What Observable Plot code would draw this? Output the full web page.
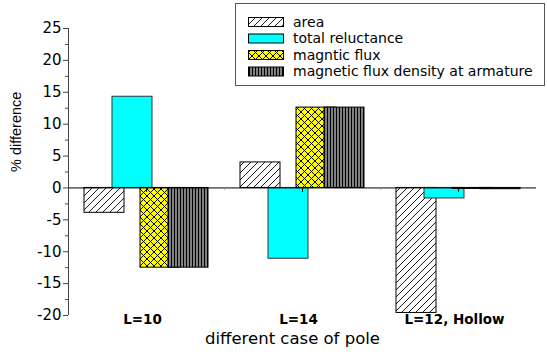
<!DOCTYPE html>
<html>
<head>
<meta charset="utf-8">
<script src="https://cdn.jsdelivr.net/npm/d3@7"></script>
<script src="https://cdn.jsdelivr.net/npm/@observablehq/plot@0.6"></script>
<style>
  html, body { margin: 0; padding: 0; background: #fff; }
</style>
</head>
<body>
<div id="chart"></div>
<script>
const categories = ["L=10", "L=14", "L=12, Hollow"];
const seriesNames = ["area", "total reluctance", "magntic flux", "magnetic flux density at armature"];
const area = [-3.9, 4.0, -19.6];
const reluctance = [14.3, -11.1, -1.65];
const flux = [-12.5, 12.6, -0.15];
const density = [-12.5, 12.6, -0.2];
const yTicks = [-20, -15, -10, -5, 0, 5, 10, 15, 20, 25];
const yMinor = [-17.5, -12.5, -7.5, -2.5, 2.5, 7.5, 12.5, 17.5, 22.5];
const xTitle = "different case of pole";
const yTitle = "% difference";

const seriesValues = [area, reluctance, flux, density];
const fills = ["url(#pArea)", "#00ffff", "url(#pFlux)", "url(#pDens)"];
const strokes = ["#000", "#333", "#000", "#000"];
const OFF = 28 / 156;   // offset between bars in a group (group units)
const W = 40 / 156;     // bar width (group units)

const rows = seriesValues.flatMap((vals, j) => vals.map((v, i) => ({i, j, v})));

const FONT = "DejaVu Sans";

const chart = Plot.plot({
  width: 547,
  height: 357,
  marginLeft: 68,
  marginRight: 11,
  marginTop: 28,
  marginBottom: 42,
  style: {fontFamily: FONT, fontSize: "15px", background: "#fff", color: "#000"},
  x: {domain: [-0.5, 2.5], axis: null},
  y: {domain: [-20, 25]},
  marks: [
    ...seriesValues.map((vals, j) => Plot.rect(rows.filter(r => r.j === j), {
      x1: r => r.i + (r.j - 1.5) * OFF - W / 2,
      x2: r => r.i + (r.j - 1.5) * OFF + W / 2,
      y1: 0,
      y2: "v",
      fill: fills[j],
      stroke: strokes[j],
      strokeWidth: 1
    })),
    Plot.ruleY([0], {stroke: "#000", strokeWidth: 1}),
    Plot.ruleX(categories.map((c, i) => i), {x: d => d, y1: 0, y2: -0.7, stroke: "#000"}),
    Plot.ruleX([0.5, 1.5], {x: d => d, y1: 0, y2: -0.35, stroke: "#888"}),
    Plot.ruleX([-0.5], {x: d => d, y1: -20, y2: 25, stroke: "#444"}),
    Plot.axisY({ticks: yTicks, tickSize: 5, tickPadding: 2, label: null, fontSize: 15, stroke: "#444",
      tickFormat: d => String(d)}),
    Plot.axisY({ticks: yMinor, tickSize: 3, tickFormat: () => "", label: null, stroke: "#444"}),
    Plot.text(categories, {x: (d, i) => i, text: d => d, frameAnchor: "bottom", dy: 8, dx: -4,
      fontWeight: "bold", fontSize: 13.5, fill: "#000"}),
    Plot.text([xTitle], {text: d => d, frameAnchor: "bottom", dy: 28, dx: -10, fontSize: 16.5, fill: "#000"}),
    Plot.text([yTitle], {text: d => d, frameAnchor: "left", dx: -52, rotate: -90, fontSize: 14.5,
      fontFamily: "Liberation Sans", fill: "#000"})
  ]
});

// patterns
const svg = d3.select(chart);
const defs = svg.insert("defs", ":first-child");
const pA = defs.append("pattern").attr("id", "pArea").attr("patternUnits", "userSpaceOnUse")
  .attr("width", 7).attr("height", 7);
pA.append("rect").attr("width", 7).attr("height", 7).attr("fill", "#fff");
pA.append("path").attr("d", "M0,7 L7,0 M-2,2 L2,-2 M5,9 L9,5").attr("stroke", "#000").attr("stroke-width", 0.9);

const pF = defs.append("pattern").attr("id", "pFlux").attr("patternUnits", "userSpaceOnUse")
  .attr("width", 7).attr("height", 7);
pF.append("rect").attr("width", 7).attr("height", 7).attr("fill", "#ffff00");
pF.append("path").attr("d", "M0,7 L7,0 M-2,2 L2,-2 M5,9 L9,5 M0,0 L7,7 M-2,5 L2,9 M5,-2 L9,2")
  .attr("stroke", "#000").attr("stroke-width", 1);

const pD = defs.append("pattern").attr("id", "pDens").attr("patternUnits", "userSpaceOnUse")
  .attr("width", 3).attr("height", 3);
pD.append("rect").attr("width", 3).attr("height", 3).attr("fill", "#808080");
pD.append("rect").attr("x", 0).attr("width", 1).attr("height", 3).attr("fill", "#000");

// legend
const lg = svg.append("g").attr("font-family", FONT).attr("font-size", 14).attr("text-anchor", "start");
lg.append("rect").attr("x", 235.5).attr("y", 3.5).attr("width", 309).attr("height", 82)
  .attr("fill", "#fff").attr("stroke", "#555");
seriesNames.forEach((name, j) => {
  const cy = 22 + j * 16.5;
  lg.append("rect").attr("x", 248.5).attr("y", cy - 4.5).attr("width", 35).attr("height", 9)
    .attr("fill", fills[j]).attr("stroke", "#000");
  lg.append("text").attr("x", 293).attr("y", cy).attr("dy", "0.35em").attr("fill", "#000")
    .attr("text-anchor", "start").text(name);
});

document.getElementById("chart").appendChild(chart);
</script>
</body>
</html>
